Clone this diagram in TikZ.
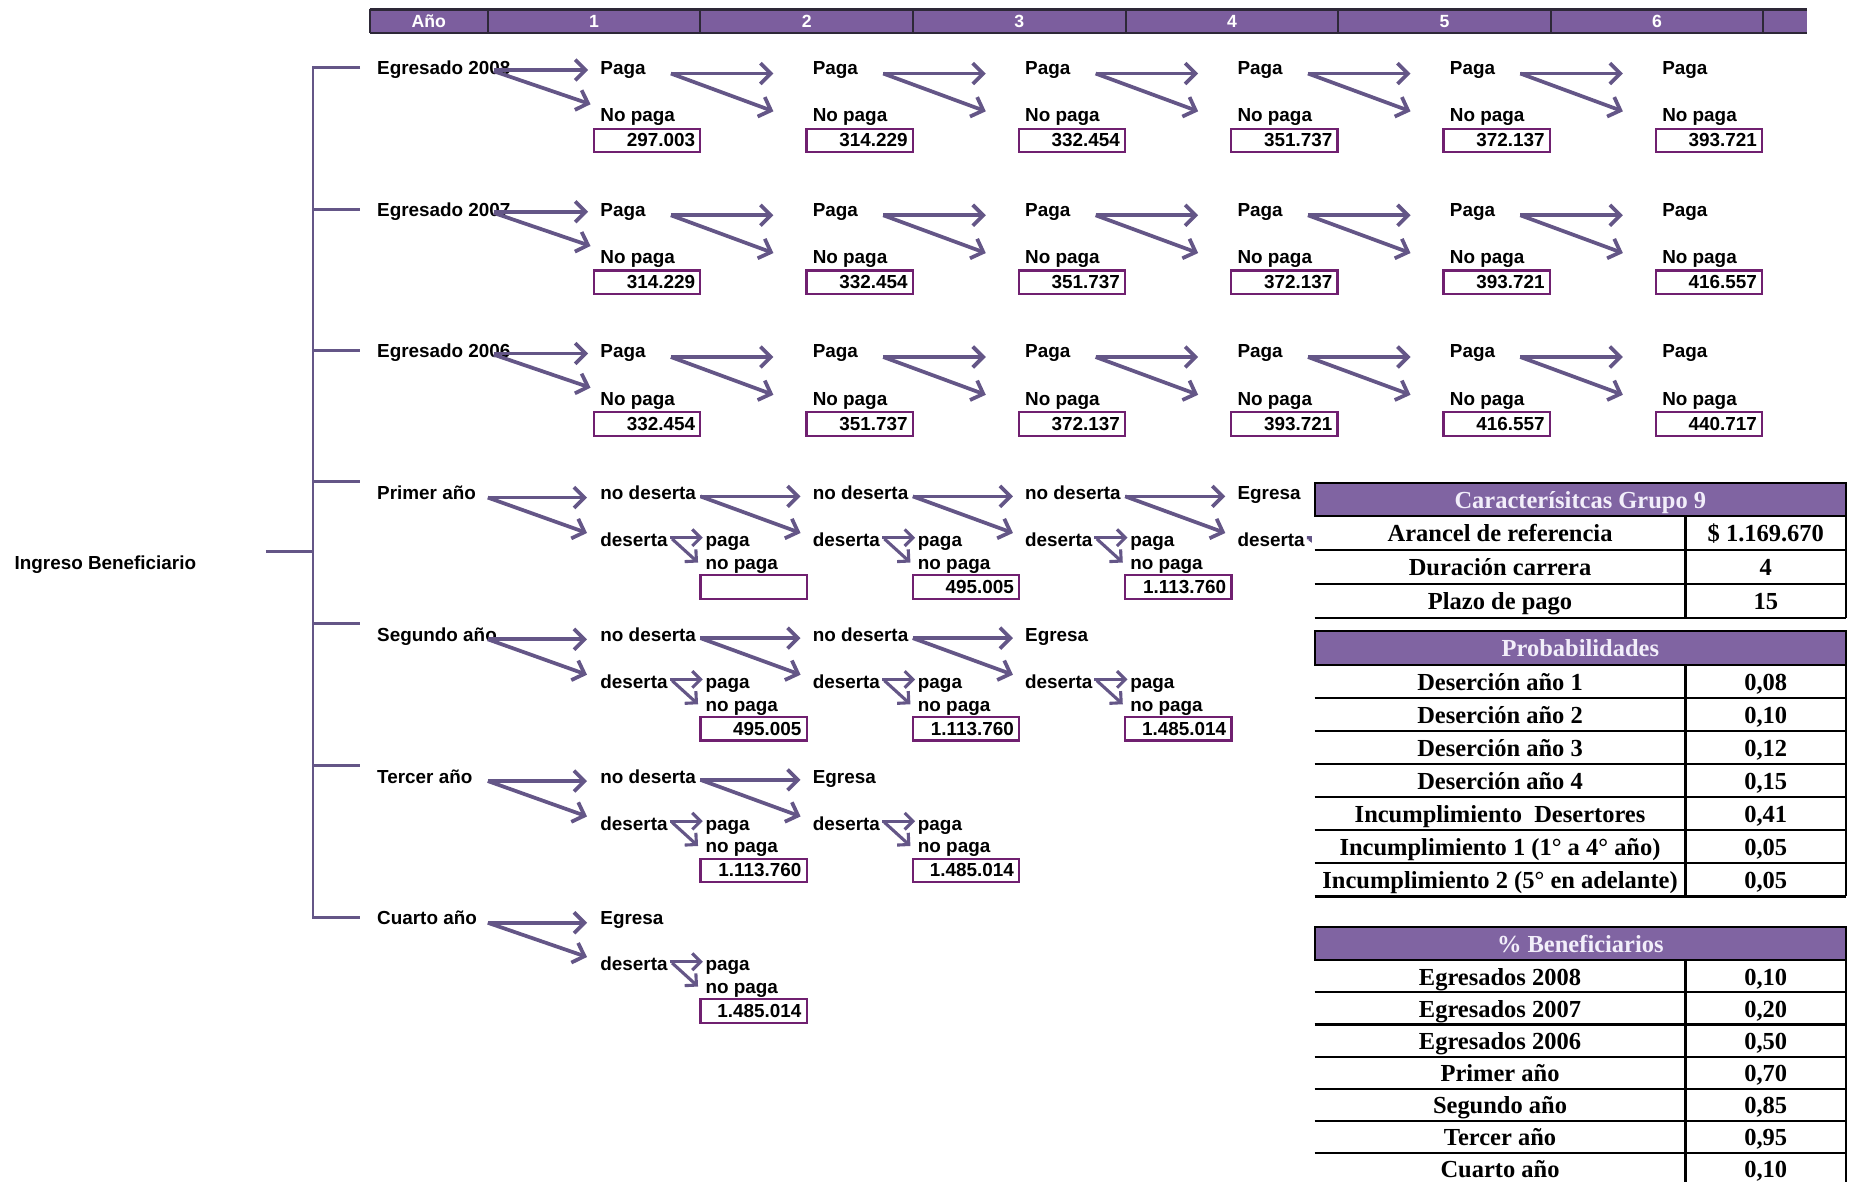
\documentclass[tikz,border=0pt]{standalone}
\usepackage{fontspec}
\setmainfont{Liberation Serif}
\setsansfont{Liberation Sans}
\usetikzlibrary{arrows.meta,calc}

\definecolor{barpurple}{RGB}{124,94,158}
\definecolor{tabpurple}{RGB}{128,100,162}
\definecolor{arrowc}{RGB}{100,86,135}
\definecolor{boxc}{RGB}{112,32,112}
\definecolor{headtext}{RGB}{242,238,250}
\definecolor{gridc}{RGB}{45,40,55}

\tikzset{
  lbl/.style={font=\sffamily\bfseries\fontsize{9.1}{10}\selectfont, anchor=west, inner sep=0pt,
    text height=6.8pt, text depth=2pt, yshift=-1pt},
  hdr/.style={font=\sffamily\bfseries\fontsize{8.5}{10}\selectfont, text=white, inner sep=0pt,
    text height=6.3pt, text depth=0pt},
  arr/.style={draw=arrowc, line width=1.8pt, -{Straight Barb[length=5pt,width=10pt]}},
  sarr/.style={draw=arrowc, line width=1.5pt, -{Straight Barb[length=4pt,width=8pt]}},
  brk/.style={draw=arrowc, line width=1.4pt},
  valbox/.style={draw=boxc, line width=1.1pt, anchor=north west, inner xsep=2.5pt, inner ysep=0pt,
    text width=1.8cm-5pt, align=right, minimum height=0.4cm,
    font=\sffamily\bfseries\fontsize{9.1}{10}\selectfont},
  tline/.style={draw=black, line width=1pt},
  tcell/.style={font=\bfseries\fontsize{11.8}{13}\selectfont, inner sep=0pt,
    text height=8pt, text depth=2.6pt, yshift=-1.5pt},
  thead/.style={tcell, text=headtext}
}

% one "Paga / No paga" column of a graduate row
\newcommand\paycol[4]{%
  \pgfmathsetmacro\xx{508+179.8*(#3-1)}%
  \node[lbl] (p#1#3) at (\xx,#2) {Paga};
  \node[lbl] (n#1#3) at (\xx,#2+40) {No paga};
  \node[valbox] (b#1#3) at (\xx-6,#2+51) {#4};
}
% "deserta -> paga / no paga" block with its amount box
\newcommand\desblock[4]{%
  \node[lbl] (#1d) at (#2,#3) {deserta};
  \node[lbl] (#1p) at (#2+89,#3) {paga};
  \node[lbl] (#1n) at (#2+89,#3+19) {no paga};
  \node[valbox] (#1b) at (#2+84,#3+29) {#4};
  \draw[sarr] ($(#1d.west)+(59,-3.5)$) -- ($(#1p.west)+(-2,-3.5)$);
  \draw[sarr] ($(#1d.west)+(61,-2.5)$) -- ($(#1n.west)+(-6,-1.5)$);
}
% two-way split from a state label
\newcommand\fork[3]{%
  \draw[arr] ($(#1.west)+(85,1.5)$) -- ($(#2.west)+(-10,1.5)$);
  \draw[arr] ($(#1.west)+(85,1.5)$) -- ($(#3.west)+(-10,-7.5)$);
}
\newcommand\rootfork[3]{%
  \draw[arr] ($(#1.west)+(94,2.5)$) -- ($(#2.west)+(-11,2.5)$);
  \draw[arr] ($(#1.west)+(94,2.5)$) -- ($(#3.west)+(-11,-7.5)$);
}

\begin{document}
\begin{tikzpicture}[x=0.02cm,y=-0.02cm]
\useasboundingbox (0,0) rectangle (1568,1000);
\clip (0,0) rectangle (1568,1000);

% ---- year header bar ----
\fill[barpurple] (313,8) rectangle (1530,28);
\draw[gridc, line width=1.2pt] (313,8) -- (1530,8) (313,28) -- (1530,28);
\foreach \xv in {313,413,593,773,953,1133,1313,1493}
  \draw[gridc, line width=1pt] (\xv,8) -- (\xv,28);
\node[hdr] (yA) at (363,18) {Año};
\foreach \k in {1,...,6}{
  \pgfmathsetmacro\xc{503+180*(\k-1)}
  \node[hdr] (y\k) at (\xc,18) {\k};
}

% ---- root and bracket ----
\node[lbl] (root) at (12,476) {Ingreso Beneficiario};
\coordinate (stem) at (225,467);
\coordinate (spine) at (265,467);
\draw[brk] (stem) -- (spine);
\draw[brk] (305,57) -- (265,57) -- (265,777) -- (305,777);
\foreach \yv in {177,297,408,528,648}
  \draw[brk] (265,\yv) -- (305,\yv);

% ---- graduates ----
\foreach \rw/\yr in {1/2008,2/2007,3/2006}{
  \pgfmathsetmacro\yy{57+120*(\rw-1)}
  \node[lbl] (eg\rw) at (319,\yy) {Egresado \yr};
}
\foreach \cl/\v in {1/297.003,2/314.229,3/332.454,4/351.737,5/372.137,6/393.721}{\paycol{1}{57}{\cl}{\v}}
\foreach \cl/\v in {1/314.229,2/332.454,3/351.737,4/372.137,5/393.721,6/416.557}{\paycol{2}{177}{\cl}{\v}}
\foreach \cl/\v in {1/332.454,2/351.737,3/372.137,4/393.721,5/416.557,6/440.717}{\paycol{3}{297}{\cl}{\v}}

\foreach \rw in {1,2,3}{
  \draw[arr] ($(eg\rw.west)+(99,0.5)$) -- ($(p\rw1.west)+(-10,0.5)$);
  \draw[arr] ($(eg\rw.west)+(99,1.5)$) -- ($(n\rw1.west)+(-8,-10.5)$);
  \foreach \cl in {1,...,5}{
    \pgfmathtruncatemacro\nx{\cl+1}
    \draw[arr] ($(p\rw\cl.west)+(60,3.5)$) -- ($(p\rw\nx.west)+(-33,3.5)$);
    \draw[arr] ($(p\rw\cl.west)+(60,3.5)$) -- ($(n\rw\nx.west)+(-33,-4.5)$);
  }
}

% ---- Primer año ----
\node[lbl] (pr) at (319,417) {Primer año};
\node[lbl] (pr1nd) at (508,417) {no deserta};
\desblock{pr1}{508}{457}{}
\node[lbl] (pr2nd) at (687.8,417) {no deserta};
\desblock{pr2}{687.8}{457}{495.005}
\node[lbl] (pr3nd) at (867.6,417) {no deserta};
\desblock{pr3}{867.6}{457}{1.113.760}
\node[lbl] (pr4eg) at (1047.4,417) {Egresa};
\node[lbl] (pr4d) at (1047.4,457) {deserta};
\coordinate (pr4x) at (1140,455);
\coordinate (pr4y) at (1136,476);
\draw[sarr] ($(pr4d.west)+(59,-3.5)$) -- (pr4x);
\draw[sarr] ($(pr4d.west)+(61,-2.5)$) -- (pr4y);
\rootfork{pr}{pr1nd}{pr1d}
\fork{pr1nd}{pr2nd}{pr2d}
\fork{pr2nd}{pr3nd}{pr3d}
\fork{pr3nd}{pr4eg}{pr4d}

% ---- Segundo año ----
\node[lbl] (sg) at (319,537) {Segundo año};
\node[lbl] (sg1nd) at (508,537) {no deserta};
\desblock{sg1}{508}{577}{495.005}
\node[lbl] (sg2nd) at (687.8,537) {no deserta};
\desblock{sg2}{687.8}{577}{1.113.760}
\node[lbl] (sg3eg) at (867.6,537) {Egresa};
\desblock{sg3}{867.6}{577}{1.485.014}
\rootfork{sg}{sg1nd}{sg1d}
\fork{sg1nd}{sg2nd}{sg2d}
\fork{sg2nd}{sg3eg}{sg3d}

% ---- Tercer año ----
\node[lbl] (tc) at (319,657) {Tercer año};
\node[lbl] (tc1nd) at (508,657) {no deserta};
\desblock{tc1}{508}{697}{1.113.760}
\node[lbl] (tc2eg) at (687.8,657) {Egresa};
\desblock{tc2}{687.8}{697}{1.485.014}
\rootfork{tc}{tc1nd}{tc1d}
\fork{tc1nd}{tc2eg}{tc2d}

% ---- Cuarto año ----
\node[lbl] (ct) at (319,777) {Cuarto año};
\node[lbl] (ct1eg) at (508,777) {Egresa};
\desblock{ct1}{508}{816}{1.485.014}
\rootfork{ct}{ct1eg}{ct1d}

% ---- table: group characteristics ----
\fill[white] (1111,404) rectangle (1568,526);
\draw[tline, fill=tabpurple] (1113,409) rectangle (1563,437);
\node[thead] (t1h) at (1338,423) {Caracterísitcas Grupo 9};
\draw[tline] (1113,466) -- (1563,466) (1113,494.5) -- (1563,494.5) (1113,523) -- (1563,523)
  (1427,437) -- (1427,523) (1563,437) -- (1563,523);
\node[tcell] (t1a) at (1270,451.5) {Arancel de referencia};
\node[tcell] (t1b) at (1495,451.5) {\$ 1.169.670};
\node[tcell] (t1c) at (1270,480) {Duración carrera};
\node[tcell] (t1d) at (1495,480) {4};
\node[tcell] (t1e) at (1270,509) {Plazo de pago};
\node[tcell] (t1f) at (1495,509) {15};

% ---- table: probabilities ----
\draw[tline, fill=tabpurple] (1113,534) rectangle (1563,563);
\node[thead] (t2h) at (1338,548.5) {Probabilidades};
\foreach \yv in {591,619,647,675,703,731,759}
  \draw[tline] (1113,\yv) -- (1563,\yv);
\draw[tline] (1427,563) -- (1427,759) (1563,563) -- (1563,759);
\node[tcell] (t2a) at (1270,577) {Deserción año 1};
\node[tcell] (t2b) at (1495,577) {0,08};
\node[tcell] (t2c) at (1270,605) {Deserción año 2};
\node[tcell] (t2d) at (1495,605) {0,10};
\node[tcell] (t2e) at (1270,633) {Deserción año 3};
\node[tcell] (t2f) at (1495,633) {0,12};
\node[tcell] (t2g) at (1270,661) {Deserción año 4};
\node[tcell] (t2h2) at (1495,661) {0,15};
\node[tcell] (t2i) at (1270,689) {Incumplimiento\ \ Desertores};
\node[tcell] (t2j) at (1495,689) {0,41};
\node[tcell] (t2k) at (1270,717) {Incumplimiento 1 (1° a 4° año)};
\node[tcell] (t2l) at (1495,717) {0,05};
\node[tcell] (t2m) at (1270,745) {Incumplimiento 2 (5° en adelante)};
\node[tcell] (t2n) at (1495,745) {0,05};

% ---- table: share of beneficiaries ----
\draw[tline, fill=tabpurple] (1113,785) rectangle (1563,813);
\node[thead] (t3h) at (1338,799) {\% Beneficiarios};
\foreach \yv in {840.2,867.4,894.6,921.8,949,976.2,1003.4}
  \draw[tline] (1113,\yv) -- (1563,\yv);
\draw[tline] (1427,813) -- (1427,1010) (1563,813) -- (1563,1010);
\node[tcell] (t3a) at (1270,826.6) {Egresados 2008};
\node[tcell] (t3b) at (1495,826.6) {0,10};
\node[tcell] (t3c) at (1270,853.8) {Egresados 2007};
\node[tcell] (t3d) at (1495,853.8) {0,20};
\node[tcell] (t3e) at (1270,881) {Egresados 2006};
\node[tcell] (t3f) at (1495,881) {0,50};
\node[tcell] (t3g) at (1270,908.2) {Primer año};
\node[tcell] (t3h2) at (1495,908.2) {0,70};
\node[tcell] (t3i) at (1270,935.4) {Segundo año};
\node[tcell] (t3j) at (1495,935.4) {0,85};
\node[tcell] (t3k) at (1270,962.6) {Tercer año};
\node[tcell] (t3l) at (1495,962.6) {0,95};
\node[tcell] (t3m) at (1270,989.8) {Cuarto año};
\node[tcell] (t3n) at (1495,989.8) {0,10};
\end{tikzpicture}
\end{document}
